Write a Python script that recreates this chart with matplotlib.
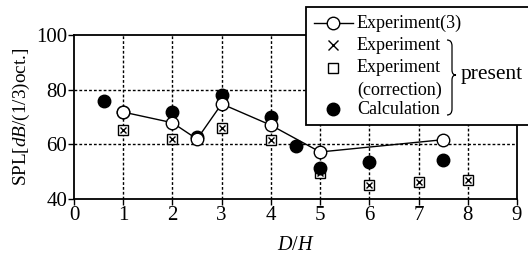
import numpy as np
import matplotlib
matplotlib.use('Agg')
import matplotlib.pyplot as plt
from matplotlib.lines import Line2D
from matplotlib.patches import Rectangle, PathPatch
from matplotlib.path import Path

plt.rcParams['font.family'] = ['Liberation Serif', 'DejaVu Serif']
plt.rcParams['mathtext.fontset'] = 'custom'
plt.rcParams['mathtext.rm'] = 'Liberation Serif'
plt.rcParams['mathtext.it'] = 'Liberation Serif:italic'

# data
exp3_x = [1, 2, 2.5, 3, 4, 5, 7.5]
exp3_y = [71.8, 67.9, 61.9, 74.8, 67.0, 57.2, 61.7]

exp_x = [1, 2, 3, 4, 5, 6, 7, 8]
exp_y = [65.2, 62.0, 65.8, 61.7, 49.5, 45.2, 46.4, 46.9]

calc_x = [0.6, 1, 2, 2.5, 3, 4, 4.5, 5, 6, 7.5]
calc_y = [76.0, 71.9, 72.0, 62.8, 78.1, 69.9, 59.4, 51.4, 53.7, 54.4]

xticks = list(range(0, 10))
yticks = [40, 60, 80, 100]

W, H = 528, 257
fig = plt.figure(figsize=(W / 100, H / 100), dpi=100)
ax = fig.add_axes([74 / W, 1 - 199 / H, (517 - 74) / W, (199 - 35) / H])


def px(x, y):
    return x / W, 1 - y / H


ax.set_xlim(0, 9)
ax.set_ylim(40, 100)
ax.set_xticks(xticks)
ax.set_yticks(yticks)
ax.tick_params(labelsize=15, direction='out', length=4, width=1, pad=1)
for s in ax.spines.values():
    s.set_linewidth(1.3)

for v in xticks[1:-1]:
    ax.axvline(v, color='black', ls=(0, (2, 1.5)), lw=1.0, zorder=1)
for v in [60, 80]:
    ax.axhline(v, color='black', ls=(0, (2, 1.5)), lw=1.0, zorder=1)

ax.plot(exp_x, exp_y, ls='none', marker='s', ms=6.5, mfc='white', mec='black', mew=1.0, zorder=3)
ax.plot(exp_x, exp_y, ls='none', marker='x', ms=5, mec='black', mew=1.0, zorder=4)
ax.plot(calc_x, calc_y, ls='none', marker='o', ms=9, mfc='black', mec='black', zorder=4)
ax.plot(exp3_x, exp3_y, color='black', lw=1.0, marker='o', ms=9, mfc='white', mec='black', mew=1.0, zorder=5)

ax.set_ylabel('SPL[$\\mathit{dB}$/(1/3)oct.]', fontsize=13.8, labelpad=3)
ax.set_xlabel('$D/H$', fontsize=14.5, labelpad=8)

# legend box drawn by hand
x0, y0 = px(306, 125)
x1, y1 = px(540, 7)
fig.patches.append(Rectangle((x0, y0), x1 - x0, y1 - y0, transform=fig.transFigure,
                             facecolor='white', edgecolor='black', lw=1.3, zorder=10))

fs = 13
mx = 333
tx = 357
a, b = px(314, 23)
c, _ = px(353, 23)
fig.lines.append(Line2D([a, c], [b, b], transform=fig.transFigure, color='black', lw=1.0, zorder=11))
fig.lines.append(Line2D([px(mx, 23)[0]], [b], transform=fig.transFigure, marker='o', ms=9,
                        mfc='white', mec='black', mew=1.0, zorder=12))
fig.text(*px(tx, 23), 'Experiment(3)', fontsize=fs, va='center', zorder=12)

p = px(mx, 45)
fig.lines.append(Line2D([p[0]], [p[1]], transform=fig.transFigure, marker='x', ms=7,
                        mec='black', mew=1.0, zorder=12))
fig.text(*px(tx, 45), 'Experiment', fontsize=fs, va='center', zorder=12)

p = px(mx, 68)
fig.lines.append(Line2D([p[0]], [p[1]], transform=fig.transFigure, marker='s', ms=7,
                        mfc='white', mec='black', mew=1.0, zorder=12))
fig.text(*px(tx, 68), 'Experiment', fontsize=fs, va='center', zorder=12)
fig.text(*px(tx, 90), '(correction)', fontsize=fs, va='center', zorder=12)

p = px(mx, 109)
fig.lines.append(Line2D([p[0]], [p[1]], transform=fig.transFigure, marker='o', ms=9,
                        mfc='black', mec='black', zorder=12))
fig.text(*px(tx, 109), 'Calculation', fontsize=fs, va='center', zorder=12)

# brace
pts = [(447, 40), (452, 40), (452, 46), (452, 70), (452, 75), (456, 75),
       (452, 75), (452, 80), (452, 109), (452, 115), (447, 115)]
verts = [px(*q) for q in pts]
codes = [Path.MOVETO, Path.CURVE3, Path.CURVE3, Path.LINETO, Path.CURVE3, Path.CURVE3,
         Path.CURVE3, Path.CURVE3, Path.LINETO, Path.CURVE3, Path.CURVE3]
fig.patches.append(PathPatch(Path(verts, codes), transform=fig.transFigure, facecolor='none',
                             edgecolor='black', lw=0.9, zorder=12))
fig.text(*px(461, 74), 'present', fontsize=15.5, va='center', zorder=12)

fig.savefig('out.png', dpi=100)
